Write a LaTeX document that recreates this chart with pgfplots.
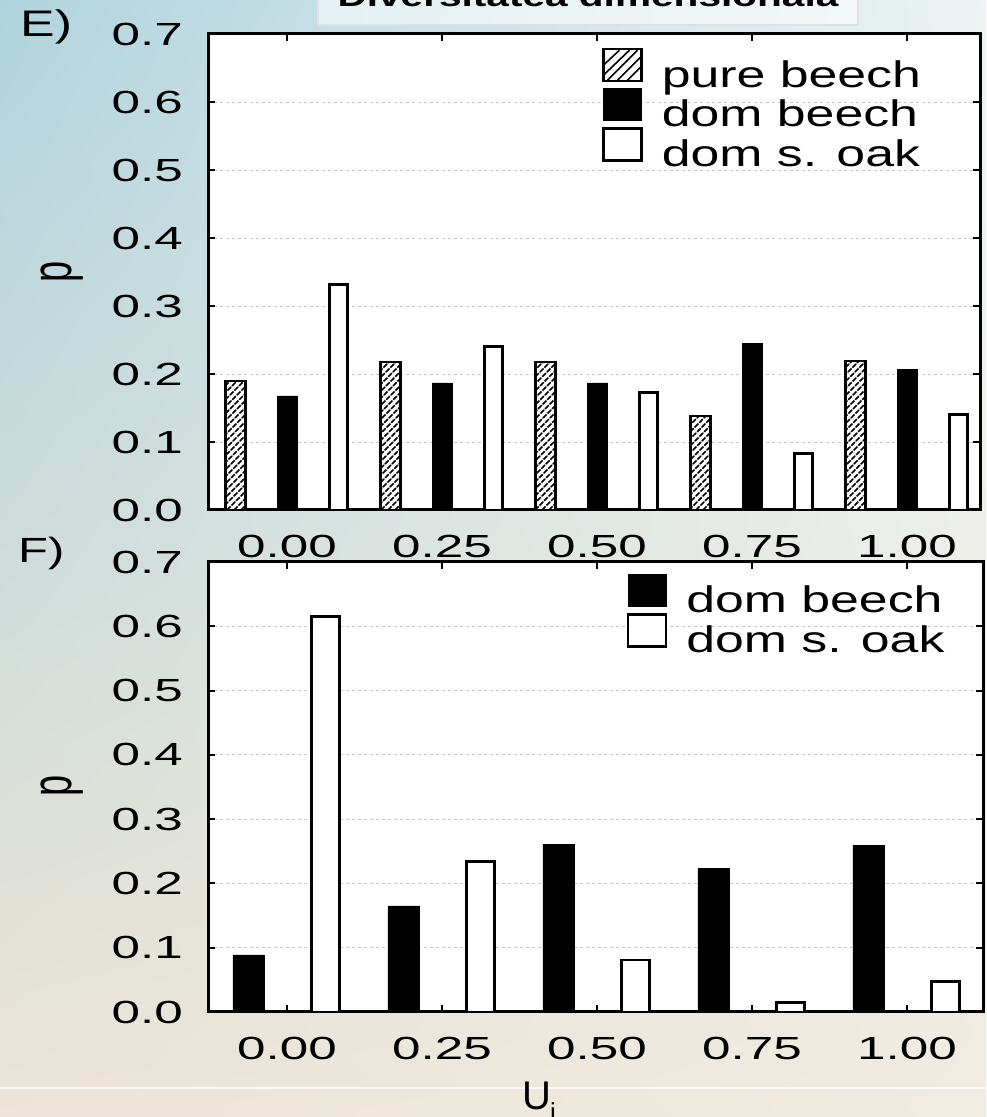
\documentclass[border=0pt]{standalone}
\usepackage{fontspec}
\setmainfont[FakeStretch=1.4]{Liberation Sans}
\newfontfamily\tickfont[FakeStretch=1.6]{Liberation Sans}
\newfontfamily\plainfont{Liberation Sans}
\usepackage{graphicx}
\usepackage{pgfplots}
\usepackage{pgfplotstable}
\pgfplotsset{compat=1.18}
\usetikzlibrary{shadings}

\definecolor{bgUL}{RGB}{176,212,222}
\definecolor{bgUR}{RGB}{236,243,242}
\definecolor{bgLL}{RGB}{236,228,214}
\definecolor{bgLR}{RGB}{241,235,225}

\pgfplotstableread{
x pure beech oak
0 0.190 0.168 0.332
1 0.218 0.187 0.241
2 0.218 0.187 0.173
3 0.138 0.245 0.083
4 0.219 0.207 0.140
}\dataE

\pgfplotstableread{
x beech oak
0 0.089 0.615
1 0.165 0.234
2 0.261 0.081
3 0.223 0.015
4 0.259 0.047
}\dataF

\pgfplotsset{
  mystyle/.style={
    scale only axis,
    axis line style={line width=3pt, black},
    axis background/.style={fill=white},
    ymin=0, ymax=0.7,
    xtick={0,1,2,3,4},
    xticklabels={0.00,0.25,0.50,0.75,1.00},
    ytick={0,0.1,0.2,0.3,0.4,0.5,0.6,0.7},
    yticklabels={0.0,0.1,0.2,0.3,0.4,0.5,0.6,0.7},
    tick align=inside,
    major tick length=7pt,
    tick style={line width=2pt, black},
    ymajorgrids,
    grid style={dashed, black!22, line width=0.8pt},
    tick label style={font=\tickfont\fontsize{32}{32}\selectfont, inner sep=0pt},
    xticklabel style={yshift=-25pt},
    yticklabel style={xshift=-25pt},
    legend cell align=left,
    legend style={draw=none, fill=none, inner sep=0pt, outer sep=0pt,
      font=\fontsize{37}{37}\selectfont, row sep=-8pt, column sep=19pt,
      nodes={inner sep=0pt, text height=29pt, text depth=9pt},
      anchor=north west},
    legend image code/.code={\draw[##1] (0pt,-4pt) rectangle (38pt,28pt);},
  },
  purestyle/.style={ybar, fill=white, draw=black, line width=2.5pt,
    path picture={
      \foreach \hx in {-170,-163,...,780} {
        \draw[path picture={}, black, line width=1.7pt, dash pattern=on 5pt off 1.5pt]
          (rel axis cs:0,0) ++(\hx pt,0pt) -- ++(180pt,180pt);
      }
    },
    legend image code/.code={
      \draw[path picture={}, black, line width=2.5pt, fill=white] (0pt,-4pt) rectangle (38pt,28pt);
      \draw[path picture={}, black, line width=1.6pt]
        (1pt,13pt) -- (16pt,27pt)
        (1pt,3pt) -- (26pt,27pt)
        (4pt,-3pt) -- (34pt,27pt)
        (14pt,-3pt) -- (37pt,20pt)
        (24pt,-3pt) -- (37pt,10pt);
    },
  },
  beechstyle/.style={ybar, fill=black, draw=black, line width=0.5pt},
  oakstyle/.style={ybar, fill=white, draw=black, line width=2.8pt},
}

\begin{document}
\begin{tikzpicture}
\useasboundingbox (0,0) rectangle (986pt,1117pt);
\clip (0,0) rectangle (986pt,1117pt);
\shade[shading=bilinear interpolation, upper left=bgUL, upper right=bgUR, lower left=bgLL, lower right=bgLR] (0,0) rectangle (986pt,1117pt);

% title box (cut at the top)
\draw[fill=white, fill opacity=0.55, draw=black!12, line width=1.5pt] (318pt,1092pt) rectangle (858pt,1135pt);
\node[anchor=base, font=\bfseries\fontsize{29}{29}\selectfont] at (588pt,1110pt) {Diversitatea dimensională};

% separator line at the bottom
\draw[white, opacity=0.8, line width=2pt] (0,29pt) -- (986pt,29pt);

% panel labels
\node[anchor=base west, inner sep=0pt, font=\fontsize{37}{37}\selectfont] at (20pt,1080pt) {E)};
\node[anchor=base west, inner sep=0pt, font=\fontsize{35}{35}\selectfont] at (18pt,554pt) {F)};

% y labels
\node[inner sep=0pt] at (62pt,845pt) {\scalebox{1.5}[1]{\rotatebox{90}{\plainfont\fontsize{38}{38}\selectfont p}}};
\node[inner sep=0pt] at (62pt,331pt) {\scalebox{1.5}[1]{\rotatebox{90}{\plainfont\fontsize{38}{38}\selectfont p}}};

% x label of lower panel
\node[anchor=base, inner sep=0pt, font=\plainfont\fontsize{40}{40}\selectfont] at (537pt,7pt) {U};
\node[anchor=base west, inner sep=0pt, font=\plainfont\fontsize{26}{26}\selectfont] at (550pt,-5pt) {i};

% ---------- panel E ----------
\begin{axis}[mystyle,
  at={(208pt,607pt)}, anchor=south west,
  width=772pt, height=476pt,
  xmin=-0.5097, xmax=4.471,
  legend style={at={(0.5104,0.9706)}}]
\addplot[purestyle, bar width=20pt, bar shift=-51.7pt] table[x=x,y=pure]{\dataE};
\addlegendentry{pure beech}
\addplot[beechstyle, bar width=20pt, bar shift=0pt] table[x=x,y=beech]{\dataE};
\addlegendentry{dom beech}
\addplot[oakstyle, bar width=18pt, bar shift=51.7pt] table[x=x,y=oak]{\dataE};
\addlegendentry{dom s. oak}
\end{axis}

% ---------- panel F ----------
\begin{axis}[mystyle,
  at={(208pt,105pt)}, anchor=south west,
  width=775pt, height=450pt,
  xmin=-0.5097, xmax=4.490,
  legend style={at={(0.540,0.973)}}]
\addplot[beechstyle, bar width=31pt, bar shift=-38.75pt] table[x=x,y=beech]{\dataF};
\addlegendentry{dom beech}
\addplot[oakstyle, bar width=28pt, bar shift=38.75pt] table[x=x,y=oak]{\dataF};
\addlegendentry{dom s. oak}
\end{axis}
\end{tikzpicture}
\end{document}
